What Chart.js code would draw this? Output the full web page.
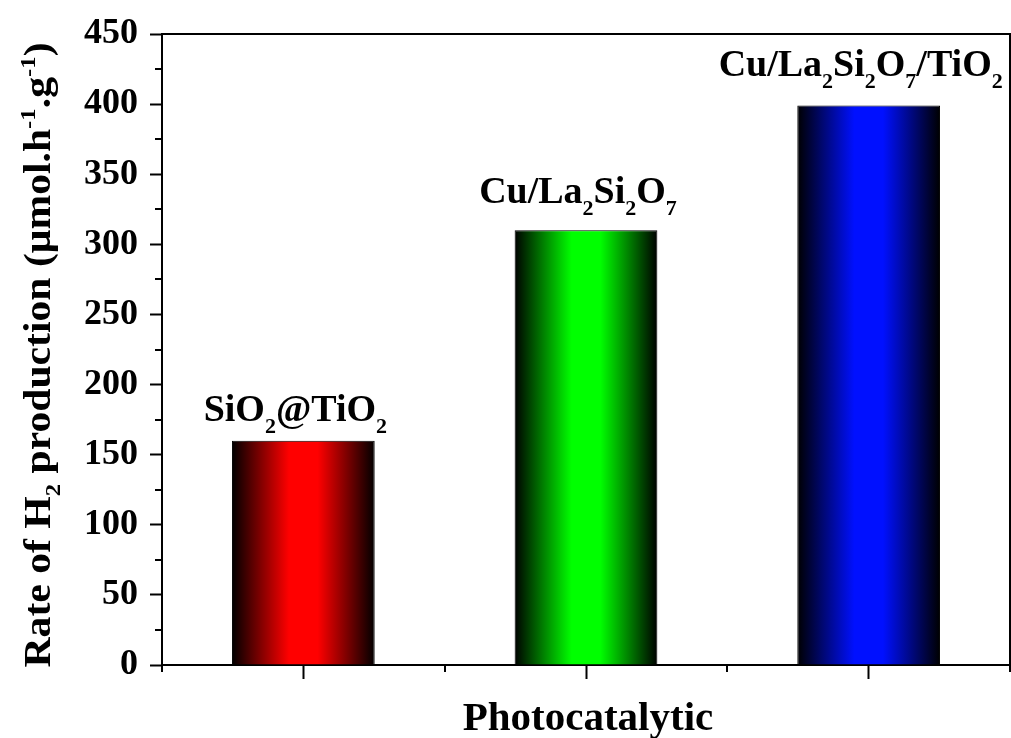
<!DOCTYPE html>
<html>
<head>
<meta charset="utf-8">
<script src="https://cdn.jsdelivr.net/npm/chart.js@4.4.1/dist/chart.umd.min.js"></script>
<style>
  body { margin: 0; background: #fff; }
</style>
</head>
<body>
<canvas id="h2-chart" width="1011" height="738"></canvas>
<script>
// values
const catalysts = ['SiO2@TiO2', 'Cu/La2Si2O7', 'Cu/La2Si2O7/TiO2'];
const h2Rate = [160, 310, 399];
const barColors = ['#ff0000', '#00ff00', '#0010ff'];
const yTicks = [0, 50, 100, 150, 200, 250, 300, 350, 400, 450];

// rich labels (n = normal, sub, sup)
const barLabels = [
    [['SiO', 'n'], ['2', 'sub'], ['@TiO', 'n'], ['2', 'sub']],
    [['Cu/La', 'n'], ['2', 'sub'], ['Si', 'n'], ['2', 'sub'], ['O', 'n'], ['7', 'sub']],
    [['Cu/La', 'n'], ['2', 'sub'], ['Si', 'n'], ['2', 'sub'], ['O', 'n'], ['7', 'sub'], ['/TiO', 'n'], ['2', 'sub']]
];
const yTitle = [['Rate of H', 'n'], ['2', 'sub'], [' production (\u03bcmol.h', 'n'], ['-1', 'sup'], ['.g', 'n'], ['-1', 'sup'], [')', 'n']];

const FONT = '"Liberation Serif", "Times New Roman", serif';
const BAR_PCT = 0.505;

function richWidth(ctx, parts, big, small) {
    let w = 0;
    parts.forEach(p => {
        ctx.font = 'bold ' + (p[1] === 'n' ? big : small) + 'px ' + FONT;
        w += ctx.measureText(p[0]).width;
    });
    return w;
}

function drawRich(ctx, parts, x, y, big, small, drop, rise) {
    let cx = x - richWidth(ctx, parts, big, small) / 2;
    ctx.textAlign = 'left';
    ctx.textBaseline = 'alphabetic';
    parts.forEach(p => {
        ctx.font = 'bold ' + (p[1] === 'n' ? big : small) + 'px ' + FONT;
        let dy = p[1] === 'sub' ? drop : (p[1] === 'sup' ? -rise : 0);
        ctx.fillText(p[0], cx, y + dy);
        cx += ctx.measureText(p[0]).width;
    });
}

function barGradient(context) {
    const chart = context.chart;
    const i = context.dataIndex;
    const color = barColors[i];
    const xs = chart.scales.x;
    if (!chart.chartArea || !xs) return color;
    const cx = xs.getPixelForValue(i);
    const half = xs.width / catalysts.length * BAR_PCT / 2;
    const g = chart.ctx.createLinearGradient(cx - half, 0, cx + half, 0);
    g.addColorStop(0, '#000000');
    g.addColorStop(0.4, color);
    g.addColorStop(0.6, color);
    g.addColorStop(1, '#000000');
    return g;
}

const extras = {
    id: 'extras',
    afterDraw(chart) {
        const ctx = chart.ctx;
        const area = chart.chartArea;
        const ys = chart.scales.y;
        const n = catalysts.length;
        ctx.save();
        ctx.strokeStyle = '#000';
        ctx.lineWidth = 2;
        // top and right frame
        ctx.beginPath();
        ctx.moveTo(area.left, area.top);
        ctx.lineTo(area.right, area.top);
        ctx.lineTo(area.right, area.bottom);
        ctx.stroke();
        // minor ticks
        ctx.beginPath();
        for (let v = 25; v < 450; v += 50) {
            const py = Math.round(ys.getPixelForValue(v));
            ctx.moveTo(area.left - 7, py);
            ctx.lineTo(area.left, py);
        }
        for (let k = 0; k <= n; k++) {
            const px = Math.round(area.left + k * (area.right - area.left) / n);
            ctx.moveTo(px, area.bottom);
            ctx.lineTo(px, area.bottom + 7);
        }
        ctx.stroke();

        // labels above bars
        ctx.fillStyle = '#000';
        const gaps = [20, 27, 30];
        const bars = chart.getDatasetMeta(0).data;
        bars.forEach((b, i) => {
            drawRich(ctx, barLabels[i], b.x - 8, b.y - gaps[i], 38, 22, 12, 14);
        });

        // x title
        ctx.font = 'bold 41px ' + FONT;
        ctx.textAlign = 'center';
        ctx.textBaseline = 'alphabetic';
        ctx.fillText('Photocatalytic', (area.left + area.right) / 2 + 2, area.bottom + 65);

        // y title, stretched along its length like the original
        const tw = richWidth(ctx, yTitle, 37, 22);
        ctx.translate(50, 355);
        ctx.rotate(-Math.PI / 2);
        ctx.scale(625 / tw, 1);
        drawRich(ctx, yTitle, 0, 0, 37, 22, 10, 15);
        ctx.restore();
    }
};

new Chart(document.getElementById('h2-chart'), {
    type: 'bar',
    data: {
        labels: catalysts,
        datasets: [{
            data: h2Rate,
            backgroundColor: barGradient,
            borderColor: '#000',
            borderWidth: 1,
            barPercentage: BAR_PCT,
            categoryPercentage: 1
        }]
    },
    options: {
        responsive: false,
        animation: false,
        layout: { padding: { top: 34, right: 1, left: 0, bottom: 0 } },
        plugins: {
            legend: { display: false },
            tooltip: { enabled: false }
        },
        scales: {
            x: {
                offset: true,
                grid: { offset: false, drawOnChartArea: false, drawTicks: true, tickLength: 14, tickWidth: 2, color: '#000' },
                border: { display: true, color: '#000', width: 2 },
                ticks: { display: false },
                afterFit(scale) { scale.height = 73; }
            },
            y: {
                min: 0,
                max: 450,
                afterBuildTicks(scale) { scale.ticks = yTicks.map(v => ({ value: v })); },
                grid: { drawOnChartArea: false, drawTicks: true, tickLength: 12, tickWidth: 2, color: '#000' },
                border: { display: true, color: '#000', width: 2 },
                ticks: {
                    color: '#000',
                    padding: 12,
                    font: { family: FONT, size: 36, weight: 'bold' }
                },
                afterFit(scale) { scale.width = 162; }
            }
        }
    },
    plugins: [extras]
});
</script>
</body>
</html>
